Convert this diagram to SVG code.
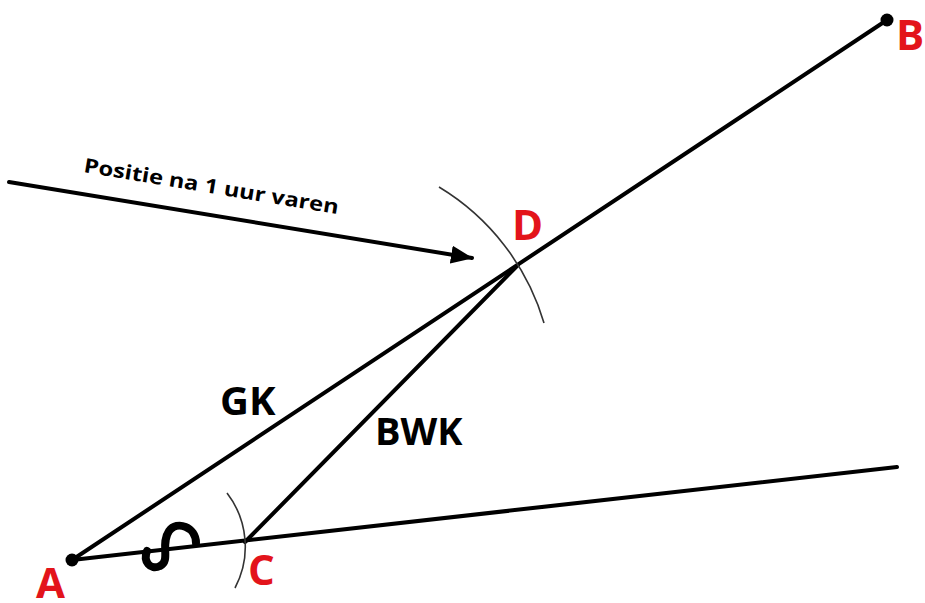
<svg xmlns="http://www.w3.org/2000/svg" width="925" height="603" viewBox="0 0 925 603">
  <style>
    .line { stroke: #000; stroke-width: 4; stroke-linecap: round; fill: none; }
    .arc { stroke: #333; stroke-width: 1.6; fill: none; }
    .pt { fill: #000; }
    .red { fill: #e3141b; font-family: "Open Sans", "Liberation Sans", sans-serif; font-weight: 700; font-size: 42px; }
    .lbl { fill: #000; font-family: "Open Sans", "Liberation Sans", sans-serif; font-weight: 700; }
  </style>
  <defs>
    <marker id="arrowHead" viewBox="0 0 22 18" refX="21" refY="9" markerWidth="22" markerHeight="18" markerUnits="userSpaceOnUse" orient="auto">
      <path d="M0,0 L22,9 L0,18 z" fill="#000"/>
    </marker>
  </defs>

  <g id="connectors">
    <!-- course line A to B -->
    <line class="line" x1="72" y1="560" x2="887" y2="20"/>
    <!-- line through A and C -->
    <line class="line" x1="72" y1="560" x2="897" y2="467"/>
    <!-- C to D -->
    <line class="line" x1="245" y1="542" x2="518" y2="265"/>
    <!-- pointer to position after one hour -->
    <line class="line" x1="9" y1="182" x2="472" y2="258" stroke-width="3.2" marker-end="url(#arrowHead)"/>
    <!-- construction arcs -->
    <path class="arc" d="M439,187 A237,237 0 0 1 544,323"/>
    <path class="arc" d="M227,493 A88,88 0 0 1 235,588"/>
    <!-- angle mark -->
    <path d="M196,543 C196,527 177,520 169,531 C160,544 171,561 160,566 C150,571 143,561 147,551" stroke="#000" stroke-width="8" fill="none" stroke-linecap="round"/>
  </g>

  <g id="node-A">
    <circle class="pt" cx="72" cy="560" r="6.5"/>
    <text class="red" x="36" y="598">A</text>
  </g>
  <g id="node-B">
    <circle class="pt" cx="887" cy="20" r="6.5"/>
    <text class="red" x="896" y="50">B</text>
  </g>
  <g id="node-C">
    <text class="red" x="248" y="585">C</text>
  </g>
  <g id="node-D">
    <text class="red" x="512" y="240">D</text>
  </g>

  <g id="labels">
    <text class="lbl" font-size="40" x="220" y="415">GK</text>
    <text class="lbl" font-size="38" x="375" y="445">BWK</text>
    <text class="lbl" font-size="20" transform="translate(83,172) rotate(9.4)" textLength="258" lengthAdjust="spacingAndGlyphs">Positie na 1 uur varen</text>
  </g>
</svg>
